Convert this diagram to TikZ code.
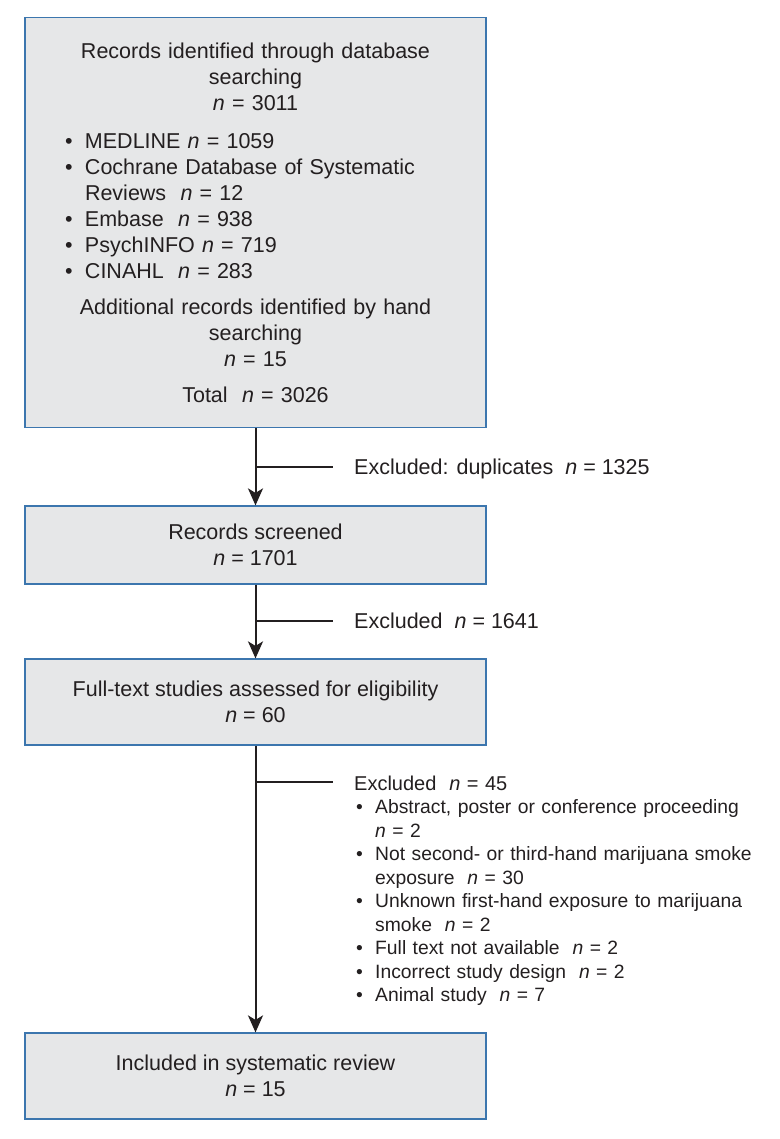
\documentclass[tikz,border=0pt]{standalone}
\usepackage{fontspec}
\setmainfont{Liberation Sans}
\usetikzlibrary{arrows.meta}
\definecolor{boxfill}{HTML}{E6E7E8}
\definecolor{boxline}{HTML}{3C76AE}
\definecolor{ink}{HTML}{231F20}
\newcommand\nn{\textit{n}}
\newcommand\ctr[1]{\makebox[\linewidth][c]{#1}}
\newcommand\bul[1]{\hspace*{30pt}\makebox[20pt][l]{•}#1}
\newcommand\sbul[1]{\hspace*{2pt}\makebox[19pt][l]{•}#1}
\begin{document}
\begin{tikzpicture}[x=1pt,y=-1pt,
  box/.style={draw=boxline, line width=1.2pt, fill=boxfill, text=ink,
    minimum width=461pt, inner xsep=10pt, inner ysep=0pt,
    font=\fontsize{21.5pt}{26pt}\selectfont},
  bigside/.style={text=ink, inner sep=0pt, font=\fontsize{21.5pt}{26pt}\selectfont},
  side/.style={text=ink, inner sep=0pt, font=\fontsize{19.3pt}{23.5pt}\selectfont},
  arr/.style={draw=ink, line width=2pt, -{Stealth[length=17pt,width=15pt,inset=4.5pt]}},
  branch/.style={draw=ink, line width=1.3pt}]
\useasboundingbox (0,0) rectangle (779,1139);

\node[box, anchor=north, text width=441pt, align=left, minimum height=410pt] (b1) at (255.5,17) {%
\ctr{Records identified through database}\\
\ctr{searching}\\
\ctr{\nn{} = 3011}\\[12pt]
\bul{MEDLINE \nn{} = 1059}\\
\bul{Cochrane Database of Systematic}\\
\hspace*{50pt}Reviews~~\nn{} = 12\\
\bul{Embase~~\nn{} = 938}\\
\bul{PsychINFO \nn{} = 719}\\
\bul{CINAHL~~\nn{} = 283}\\[10pt]
\ctr{Additional records identified by hand}\\
\ctr{searching}\\
\ctr{\nn{} = 15}\\[10pt]
\ctr{Total~~\nn{} = 3026}};

\node[box, minimum height=78pt, align=center] (b2) at (255.5,545) {Records screened\\\nn{} = 1701};
\node[box, minimum height=86pt, align=center] (b3) at (255.5,702) {Full-text studies assessed for eligibility\\\nn{} = 60};
\node[box, minimum height=86pt, align=center] (b4) at (255.5,1076) {Included in systematic review\\\nn{} = 15};

\draw[arr] (b1) -- (b2);
\draw[arr] (b2) -- (b3);
\draw[arr] (b3) -- (b4);

\node[bigside, anchor=base west] (e1) at (354,474) {Excluded: duplicates~~\nn{} = 1325};
\node[bigside, anchor=base west] (e2) at (354,628) {Excluded~~\nn{} = 1641};
\node[side, anchor=base west, text width=420pt, align=left] (e3) at (354,790) {%
{\fontsize{20pt}{23.5pt}\selectfont Excluded~~\nn{} = 45}\\
\sbul{Abstract, poster or conference proceeding}\\
\hspace*{21pt}\nn{} = 2\\
\sbul{Not second- or third-hand marijuana smoke}\\
\hspace*{21pt}exposure~~\nn{} = 30\\
\sbul{Unknown first-hand exposure to marijuana}\\
\hspace*{21pt}smoke~~\nn{} = 2\\
\sbul{Full text not available~~\nn{} = 2}\\
\sbul{Incorrect study design~~\nn{} = 2}\\
\sbul{Animal study~~\nn{} = 7}};

\coordinate (j1) at (257,467); \coordinate (k1) at (333,467);
\coordinate (j2) at (257,621); \coordinate (k2) at (333,621);
\coordinate (j3) at (257,782); \coordinate (k3) at (333,782);
\draw[branch] (j1) -- (k1);
\draw[branch] (j2) -- (k2);
\draw[branch] (j3) -- (k3);
\end{tikzpicture}
\end{document}
